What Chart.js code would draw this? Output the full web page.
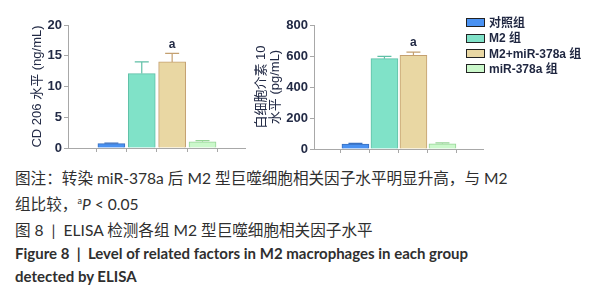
<!DOCTYPE html>
<html>
<head>
<meta charset="utf-8">
<script src="https://cdn.jsdelivr.net/npm/chart.js@4"></script>
<style>
  body { margin: 0; width: 606px; height: 300px; background: #fff; position: relative; overflow: hidden; }
  .box { position: absolute; top: 0; height: 160px; }
  #legend { position: absolute; left: 466px; top: 16px; font: bold 12px "Liberation Sans", "Noto Sans CJK SC", sans-serif; color: #1f2640; }
  #legend div { height: 15.3px; line-height: 15.3px; white-space: nowrap; }
  #legend span { display: inline-block; width: 17px; height: 7px; border: 1.5px solid #222; vertical-align: middle; margin-right: 4px; margin-top: -2px; }
  .cap { position: absolute; left: 15px; white-space: nowrap; font: 15.6px Lato, "Noto Sans CJK SC", sans-serif; color: #2f2f2f; }
  .cap.b { font-weight: bold; font-size: 15px; }
</style>
</head>
<body>
<div class="box" style="left:0;width:250px"><canvas id="c1" width="250" height="160"></canvas></div>
<div class="box" style="left:250px;width:240px"><canvas id="c2" width="240" height="160"></canvas></div>
<div id="legend"></div>
<div class="cap" style="top:166px">图注：转染 miR-378a 后 M2 型巨噬细胞相关因子水平明显升高，与 M2</div>
<div class="cap" style="top:192px">组比较，<sup style="font-size:9px">a</sup><i>P</i> &lt; 0.05</div>
<div class="cap" style="top:218px">图 8 &nbsp;|&nbsp; ELISA 检测各组 M2 型巨噬细胞相关因子水平</div>
<div class="cap b" style="top:244px">Figure 8 &nbsp;|&nbsp; Level of related factors in M2 macrophages in each group</div>
<div class="cap b" style="top:267px">detected by ELISA</div>
<script>
// grupos y valores
const groups = ['对照组', 'M2 组', 'M2+miR-378a 组', 'miR-378a 组'];
const fillColors = ['#4a92f2', '#80e2c8', '#e9d7a3', '#cbf8cb'];
const lineColors = ['#3a70c0', '#5fbfa6', '#c4a070', '#96d496'];

const cd206 = [0.7, 12.1, 14.0, 1.0];
const cd206Err = [0.1, 1.9, 1.4, 0.2];
const il10 = [32, 583, 605, 34];
const il10Err = [4, 15, 20, 5];
const sigMarks = ['', '', 'a', ''];

const cd206Ticks = [0, 5, 10, 15, 20];
const il10Ticks = [0, 200, 400, 600, 800];

const fontFam = '"Liberation Sans", "Noto Sans CJK SC", sans-serif';
const textColor = '#222a45';

// barras de error y letras de significancia
const errorBars = {
  id: 'errorBars',
  afterDatasetsDraw(chart) {
    const ctx = chart.ctx;
    const ds = chart.data.datasets[0];
    const yScale = chart.scales.y;
    chart.getDatasetMeta(0).data.forEach((bar, i) => {
      const v = ds.data[i].y;
      const top = yScale.getPixelForValue(v + ds.errs[i]);
      const yv = yScale.getPixelForValue(v);
      ctx.save();
      ctx.strokeStyle = lineColors[i];
      ctx.lineWidth = 1.2;
      ctx.beginPath();
      ctx.moveTo(bar.x, yv);
      ctx.lineTo(bar.x, top);
      ctx.moveTo(bar.x - 7, top);
      ctx.lineTo(bar.x + 7, top);
      ctx.stroke();
      if (sigMarks[i]) {
        ctx.fillStyle = textColor;
        ctx.font = 'bold 12px ' + fontFam;
        ctx.textAlign = 'center';
        ctx.textBaseline = 'bottom';
        ctx.fillText(sigMarks[i], bar.x, top - 3);
      }
      ctx.restore();
    });
  }
};

function makeChart(id, values, errs, ticks, title, yWidth, xHeight, pad) {
  return new Chart(document.getElementById(id), {
    type: 'bar',
    data: {
      datasets: [{
        data: values.map((v, i) => ({ x: i, y: v })),
        errs: errs,
        backgroundColor: fillColors,
        borderColor: lineColors,
        borderWidth: 1,
        barThickness: 27
      }]
    },
    options: {
      responsive: false,
      animation: false,
      layout: { padding: pad },
      plugins: { legend: { display: false }, tooltip: { enabled: false } },
      scales: {
        x: {
          type: 'linear',
          min: -0.7,
          max: 3.67,
          afterBuildTicks: s => { s.ticks = values.map((v, i) => ({ value: i })); },
          afterFit: s => { s.height = xHeight; },
          ticks: { callback: () => '' },
          grid: { drawOnChartArea: false, tickLength: 4, color: '#a8a8a8' },
          border: { color: '#a8a8a8' }
        },
        y: {
          min: ticks[0],
          max: ticks[ticks.length - 1],
          afterBuildTicks: s => { s.ticks = ticks.map(v => ({ value: v })); },
          afterFit: s => { s.width = yWidth; },
          ticks: { color: textColor, padding: 2, font: { family: fontFam, size: 13, weight: 'bold' } },
          grid: { drawOnChartArea: false, tickLength: 4, color: '#a8a8a8' },
          border: { color: '#a8a8a8' },
          title: {
            display: true,
            text: title,
            color: textColor,
            padding: { top: 4, bottom: 0 },
            font: { family: fontFam, size: 13, lineHeight: 1.05 }
          }
        }
      }
    },
    plugins: [errorBars]
  });
}

makeChart('c1', cd206, cd206Err, cd206Ticks, 'CD 206 水平 (ng/mL)', 41, 12, { left: 27, right: 5, top: 25, bottom: 0 });
makeChart('c2', il10, il10Err, il10Ticks, ['白细胞介素 10', '水平 (pg/mL)'], 63, 11, { left: 1, right: 7, top: 25, bottom: 0 });

// leyenda
const legend = document.getElementById('legend');
groups.forEach((g, i) => {
  const row = document.createElement('div');
  row.innerHTML = '<span style="background:' + fillColors[i] + '"></span>' + g;
  legend.appendChild(row);
});
</script>
</body>
</html>
